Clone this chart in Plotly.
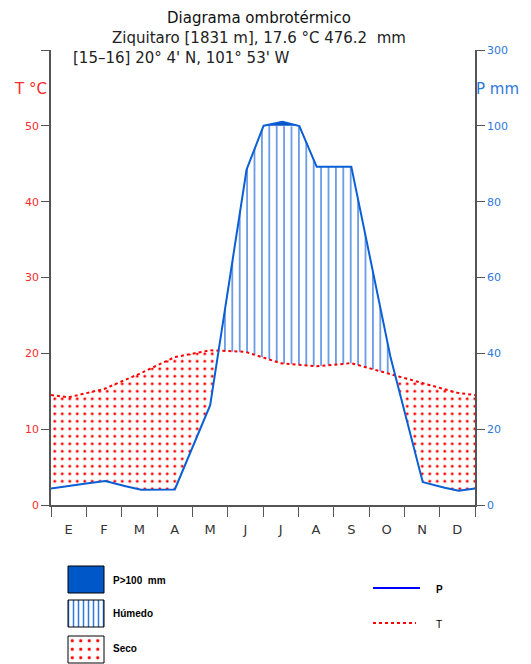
import numpy as np
import plotly.graph_objects as go

# monthly climate normals, Ziquitaro
months = ['E', 'F', 'M', 'A', 'M', 'J', 'J', 'A', 'S', 'O', 'N', 'D']
temp_c = [14.2, 15.3, 17.3, 19.5, 20.4, 20.2, 18.7, 18.3, 18.7, 17.4, 16.1, 14.8]
precip_mm = [5.0, 6.4, 4.0, 4.0, 26.0, 87.6, 112.0, 89.2, 89.2, 43.0, 6.1, 3.7]

t_ticks = [0, 10, 20, 30, 40, 50, 60]
t_ticktext = ['0', '10', '20', '30', '40', '50', '']
p_ticktext = ['0', '20', '40', '60', '80', '100', '300']

# page is photographed with the browser's 8px body margin, so the figure is 8px smaller
W, H = 531, 664
PAGE = 8
ML, MR, MT, MB = 51 - PAGE, 56, 50 - PAGE, 0
RED = '#ff2a2a'
BLUE = '#2f78dc'
LINE_BLUE = '#0a5fd4'
AX = '#555555'


def p_scale(p):
    # P/2 up to 100 mm, then 1:20 compressed above
    p = np.asarray(p, dtype=float)
    return np.where(p <= 100, p / 2, 50 + (p - 100) / 20)


def px(x):
    return (x - 51) / (475 - 51)


def py(y):
    return (H - y) / (H - 50)


t = np.array(temp_c)
p = np.array(precip_mm)
xm = np.arange(12) + 0.5
x_ext = np.r_[0, xm, 12]
t_ext = np.r_[(t[-1] + t[0]) / 2, t, (t[-1] + t[0]) / 2]
p_ext = np.r_[(p[-1] + p[0]) / 2, p, (p[-1] + p[0]) / 2]

xf = np.linspace(0, 12, 2401)
tf = np.interp(xf, x_ext, t_ext)
pf = p_scale(np.interp(xf, x_ext, p_ext))

none_line = dict(width=0, color='rgba(0,0,0,0)')
clear = 'rgba(0,0,0,0)'

fig = go.Figure()

# dry period (T above P)
fig.add_trace(go.Scatter(x=xf, y=np.minimum(tf, pf), mode='lines', line=none_line, hoverinfo='skip'))
fig.add_trace(go.Scatter(x=xf, y=tf, mode='lines', line=none_line, fill='tonexty', fillcolor=clear,
                         fillpattern=dict(shape='.', fgcolor='#ff0000', fgopacity=1, bgcolor=clear,
                                          size=7.5, solidity=0.12),
                         hoverinfo='skip'))
# humid period
fig.add_trace(go.Scatter(x=xf, y=tf, mode='lines', line=none_line, hoverinfo='skip'))
fig.add_trace(go.Scatter(x=xf, y=np.maximum(tf, np.minimum(pf, 50)), mode='lines', line=none_line,
                         fill='tonexty', fillcolor=clear,
                         fillpattern=dict(shape='|', fgcolor='#1a66d8', fgopacity=1, bgcolor=clear,
                                          size=7.4, solidity=0.16),
                         hoverinfo='skip'))
# P > 100 mm: polygon between the 100 mm level and the curve
wet = pf >= 50
fig.add_trace(go.Scatter(x=np.r_[xf[wet], xf[wet][::-1]], y=np.r_[pf[wet], np.full(wet.sum(), 50.0)],
                         mode='lines', line=none_line, fill='toself', fillcolor='#0057c8', hoverinfo='skip'))

# curves
fig.add_trace(go.Scatter(x=x_ext, y=t_ext, mode='lines', line=dict(color='#ff0000', width=2, dash='dot'),
                         name='T'))
fig.add_trace(go.Scatter(x=xf, y=pf, mode='lines', line=dict(color=LINE_BLUE, width=2), name='P',
                         yaxis='y2'))


# legend keys drawn in a pixel-like helper axis below the chart
def box(x0, y0, x1, y1):
    return [x0, x1, x1, x0, x0], [y0, y0, y1, y1, y0]


bx, by = box(68, 566, 104, 593)
fig.add_trace(go.Scatter(x=bx, y=by, xaxis='x3', yaxis='y3', mode='lines', fill='toself',
                         fillcolor='#0057c8', line=dict(color='black', width=1), hoverinfo='skip'))
bx, by = box(68, 600, 104, 627)
fig.add_trace(go.Scatter(x=bx, y=by, xaxis='x3', yaxis='y3', mode='lines', fill='toself', fillcolor='white',
                         fillpattern=dict(shape='|', fgcolor='#2f78dc', fgopacity=1, bgcolor='white',
                                          size=5, solidity=0.3),
                         line=dict(color='black', width=1), hoverinfo='skip'))
bx, by = box(68, 636, 104, 663)
fig.add_trace(go.Scatter(x=bx, y=by, xaxis='x3', yaxis='y3', mode='lines', fill='toself', fillcolor='white',
                         fillpattern=dict(shape='.', fgcolor='#ff0000', fgopacity=1, bgcolor='white',
                                          size=8.5, solidity=0.11),
                         line=dict(color='black', width=1), hoverinfo='skip'))
fig.add_trace(go.Scatter(x=[373, 420], y=[588, 588], xaxis='x3', yaxis='y3', mode='lines',
                         line=dict(color='#0000ff', width=2), hoverinfo='skip'))
fig.add_trace(go.Scatter(x=[373, 416], y=[623, 623], xaxis='x3', yaxis='y3', mode='lines',
                         line=dict(color='#ff0000', width=2, dash='dot'), hoverinfo='skip'))

leg_font = dict(family='Liberation Sans', size=10, color='black')
legend_labels = [(111, 580, '<b>P>100  mm</b>'), (111, 613, '<b>Húmedo</b>'), (111, 648, '<b>Seco</b>'),
                 (434, 589, '<b>P</b>'), (434, 624, 'T')]
annotations = [dict(x=x, y=y, xref='x3', yref='y3', text=s, showarrow=False, xanchor='left',
                    yanchor='middle', font=leg_font) for x, y, s in legend_labels]

title_font = dict(family='DejaVu Sans', size=15, color='#222222')
annotations += [
    dict(x=px(259), y=py(8), xref='paper', yref='paper', text='Diagrama ombrotérmico', showarrow=False,
         font=dict(family='DejaVu Sans', size=15, color='#111111'), xanchor='center', yanchor='top',
         borderpad=0),
    dict(x=px(259), y=py(37.5), xref='paper', yref='paper', text='Ziquitaro [1831 m], 17.6 °C 476.2  mm',
         showarrow=False, font=title_font, xanchor='center', yanchor='middle', borderpad=0),
    dict(x=px(72), y=py(57.5), xref='paper', yref='paper', text="[15–16] 20° 4' N, 101° 53' W",
         showarrow=False, font=title_font, xanchor='left', yanchor='middle', borderpad=0),
    dict(x=px(12), y=py(89), xref='paper', yref='paper', text='T °C', showarrow=False,
         font=dict(family='DejaVu Sans', size=15, color=RED), xanchor='left', yanchor='middle'),
    dict(x=px(474), y=py(89), xref='paper', yref='paper', text='P mm', showarrow=False,
         font=dict(family='DejaVu Sans', size=15, color=BLUE), xanchor='left', yanchor='middle'),
]

main_dom = [(H - 505) / (H - 50), 1]
fig.update_layout(
    width=W - PAGE, height=H - PAGE, margin=dict(l=ML, r=MR, t=MT, b=MB, autoexpand=False),
    paper_bgcolor='white', plot_bgcolor='white', showlegend=False,
    xaxis=dict(range=[0, 12], tickmode='array', tickvals=xm, ticktext=months, ticks='outside', ticklen=12,
               tickcolor=clear, showline=True, linecolor=AX, linewidth=1.5, showgrid=False, zeroline=False,
               tickfont=dict(family='DejaVu Sans', size=13, color='#333333'),
               minor=dict(tickmode='array', tickvals=list(range(13)), ticks='outside', ticklen=10,
                          tickcolor=AX, tickwidth=1.2, showgrid=False),
               anchor='y', automargin=False),
    yaxis=dict(range=[0, 60], domain=main_dom, tickmode='array', tickvals=t_ticks, ticktext=t_ticktext,
               ticks='outside', ticklen=8, tickcolor=AX, tickwidth=1.2, showline=True, linecolor=AX,
               linewidth=1.5, showgrid=False, zeroline=False, automargin=False,
               tickfont=dict(family='DejaVu Sans', size=11, color=RED)),
    yaxis2=dict(range=[0, 60], overlaying='y', side='right', tickmode='array', tickvals=t_ticks,
                ticktext=p_ticktext, ticks='outside', ticklen=8, tickcolor=AX, tickwidth=1.2, showline=True,
                linecolor=AX, linewidth=1.5, showgrid=False, zeroline=False, automargin=False,
                tickfont=dict(family='DejaVu Sans', size=11, color=BLUE)),
    xaxis3=dict(range=[51, 475], domain=[0, 1], anchor='y3', visible=False, automargin=False),
    yaxis3=dict(range=[H, 560], domain=[0, (H - 560) / (H - 50)], anchor='x3', visible=False,
                automargin=False),
    annotations=annotations,
)

fig.write_html('out.html')
